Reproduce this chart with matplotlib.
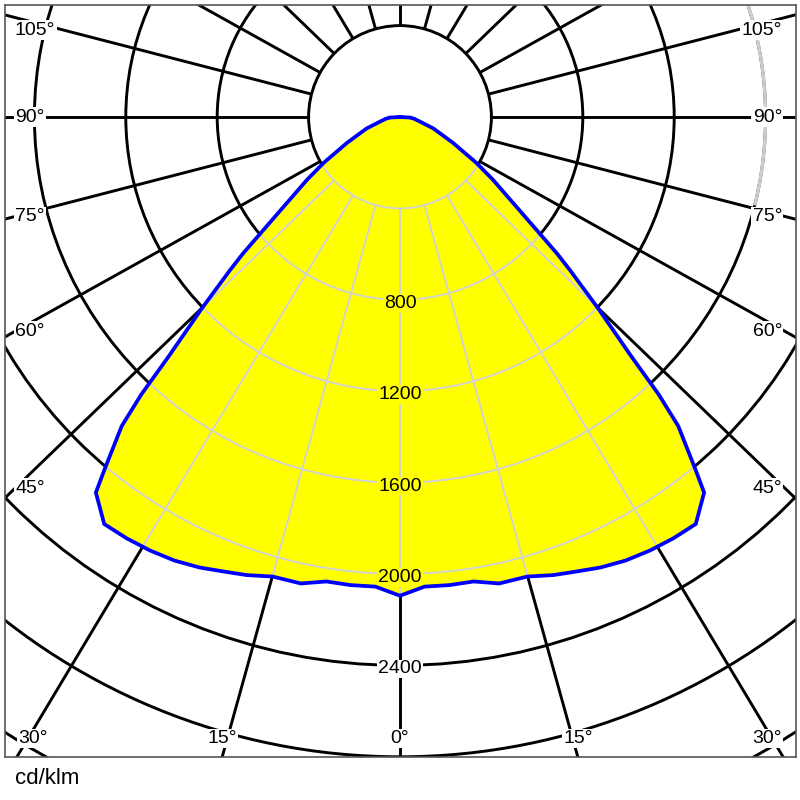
import numpy as np
import matplotlib
matplotlib.use("Agg")
import matplotlib.pyplot as plt
from matplotlib.patches import Circle, Arc, Polygon
from matplotlib.collections import LineCollection
from matplotlib import font_manager as fm

# intensity distribution, cd/klm, angle from nadir (symmetric, one half)
angles = [0, 3, 6, 9, 12, 15.5, 18.5, 21, 24, 27, 30, 33, 36, 39, 40, 42, 43,
          44, 45, 46, 48, 49, 50, 53, 56, 59, 64, 71, 77, 83, 87, 90]
intensity = [2095, 2058, 2060, 2058, 2087, 2087, 2114, 2132, 2158, 2178, 2190,
             2198, 2202, 2115, 2010, 1820, 1660, 1460, 1320, 1205, 1000, 910,
             810, 610, 490, 390, 258, 155, 90, 62, 44, 0]

ring_values = [400, 800, 1200, 1600, 2000, 2400, 2800, 3200, 3600, 4000]
ring_labels = [800, 1200, 1600, 2000, 2400]
side_labels = [105, 90, 75, 60, 45]
bottom_labels = [-30, -15, 0, 15, 30]
unit = "cd/klm"

# pixel geometry of the reference
S = 0.2285          # px per cd
CX, CY = 400, 117   # pole in px
L, T, R, B = 5, 5, 796, 757
K = 1.037           # spokes in the original are slightly stretched sideways


def px(x, y):
    return (x - CX) / S, (CY - y) / S


font = fm.FontProperties(family=["Liberation Sans", "DejaVu Sans"], size=14)
font_big = fm.FontProperties(family=["Liberation Sans", "DejaVu Sans"], size=16)

fig = plt.figure(figsize=(8, 8), dpi=100)
ax = fig.add_axes([L / 800, 1 - B / 800, (R - L) / 800, (B - T) / 800])
x0, y1 = px(L, T)
x1, y0 = px(R, B)
ax.set_xlim(x0, x1)
ax.set_ylim(y0, y1)
ax.set_xticks([])
ax.set_yticks([])
for s in ax.spines.values():
    s.set_color("#555555")
    s.set_linewidth(1.2)

# curve polygon (mirror the half)
th = np.radians(np.array(angles, dtype=float))
r = np.array(intensity, dtype=float)
th_full = np.concatenate([-th[::-1], th[1:]])
r_full = np.concatenate([r[::-1], r[1:]])
cx_ = r_full * np.sin(th_full)
cy_ = -r_full * np.cos(th_full)


def spokes(r_in, r_out):
    segs = []
    for a in range(0, 360, 15):
        t = np.radians(a)
        d = np.array([K * np.sin(t), -np.cos(t)])
        d /= np.hypot(*d)
        segs.append([d * r_in, d * r_out])
    return segs


# black grid
for rv in ring_values:
    ax.add_patch(Circle((0, 0), rv, fill=False, ec="black", lw=2.1, zorder=1))
ax.add_collection(LineCollection(spokes(400, 8000), colors="black", lw=2.1, zorder=1))
ax.add_patch(Arc((0, 0), 2 * 1600, 2 * 1600, theta1=-14, theta2=25,
                 color="#cccccc", lw=2.4, zorder=1.5))

# filled distribution
poly = Polygon(np.column_stack([cx_, cy_]), closed=True, fc="#ffff00", ec="none", zorder=2)
ax.add_patch(poly)

# light grid on top of the fill
for rv in ring_values:
    c = Circle((0, 0), rv, fill=False, ec="#d3d3d3", lw=1.4, zorder=3)
    ax.add_patch(c)
    c.set_clip_path(poly)
lc = LineCollection(spokes(400, 8000), colors="#d3d3d3", lw=1.4, zorder=3)
ax.add_collection(lc)
lc.set_clip_path(poly)

ax.plot(cx_, cy_, color="#0000ff", lw=2.7, zorder=5, solid_joinstyle="miter")

# ring labels
for rv in ring_labels:
    inside = rv < np.interp(0, angles, intensity)
    ax.text(0, -rv - 3.5 / S, str(rv), ha="center", va="center", fontproperties=font,
            zorder=4, bbox=dict(fc="#ffff00" if inside else "white", ec="none", pad=0.5))

# angle labels on the sides
for a in side_labels:
    yp = CY + 371 / np.tan(np.radians(a))
    yp = max(yp, 30)
    xl, yd = px(15, yp)
    ax.text(xl, yd, f"{a}°", ha="left", va="center", fontproperties=font, zorder=6,
            bbox=dict(fc="white", ec="none", pad=1))
    xr, _ = px(782, yp)
    ax.text(xr, yd, f"{a}°", ha="right", va="center", fontproperties=font, zorder=6,
            bbox=dict(fc="white", ec="none", pad=1))

# angle labels along the bottom
for a in bottom_labels:
    xp = CX + (B - CY) * K * np.tan(np.radians(a))
    xp = min(max(xp, 33), 767)
    xd, yd = px(xp, 738.5)
    ax.text(xd, yd, f"{abs(a)}°", ha="center", va="center", fontproperties=font, zorder=6,
            bbox=dict(fc="white", ec="none", pad=1))

fig.text(15 / 800, 1 - 778 / 800, unit, ha="left", va="center", fontproperties=font_big)

fig.savefig("out.png", dpi=100, facecolor="white")
